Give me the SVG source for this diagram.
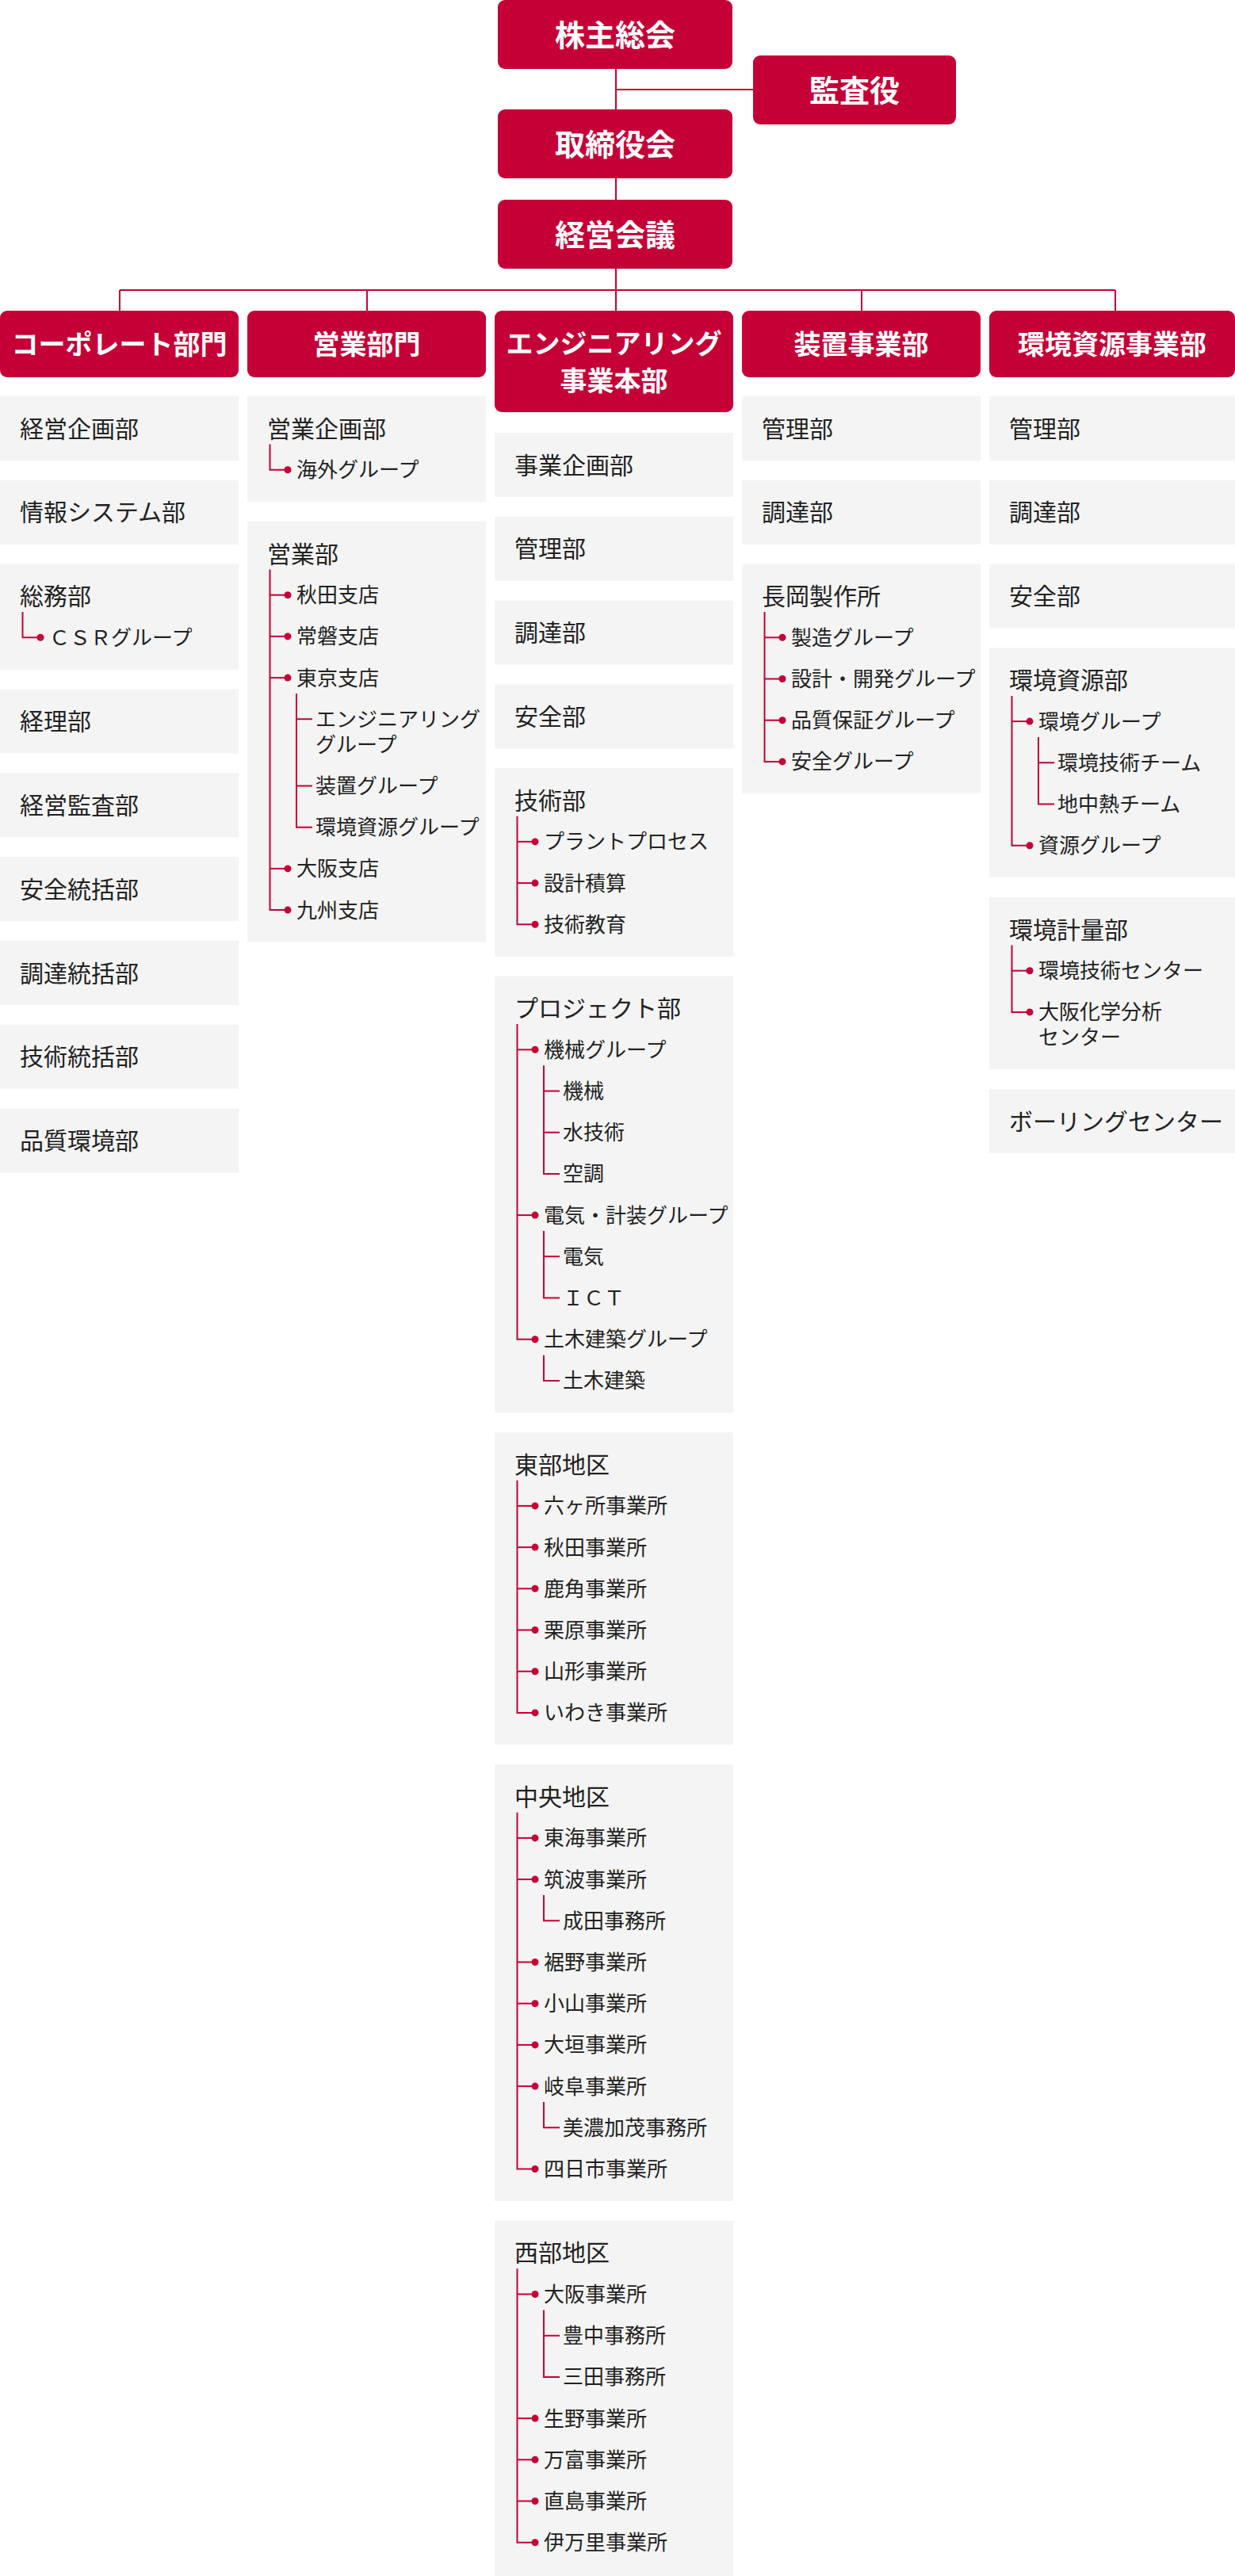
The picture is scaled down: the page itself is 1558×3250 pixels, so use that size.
<svg xmlns="http://www.w3.org/2000/svg" width="1558" height="3250" viewBox="0 0 1558 3250">
<defs>
<style>
.rb{fill:#c40037}
.gb{fill:#f4f4f4}
.t1{font-family:"Noto Sans CJK JP",sans-serif;font-weight:700;font-size:38px;fill:#fff;text-anchor:middle}
.t2{font-family:"Noto Sans CJK JP",sans-serif;font-weight:700;font-size:34px;fill:#fff;text-anchor:middle}
.h{font-family:"Noto Sans CJK JP",sans-serif;font-size:30px;fill:#222}
.s{font-family:"Noto Sans CJK JP",sans-serif;font-size:26px;fill:#222}
.ln{stroke:#c40037;stroke-width:2;fill:none}
.tk{stroke:#c40037;stroke-width:2;fill:none;marker-end:url(#dot)}
</style>
<marker id="dot" markerUnits="userSpaceOnUse" viewBox="0 0 10 10" refX="5" refY="5" markerWidth="10" markerHeight="10"><circle cx="5" cy="5" r="4.5" fill="#c40037"/></marker>
</defs>
<rect width="1558" height="3250" fill="#fff"/>

<g id="connectors" class="ln">
<path d="M777 87V138M777 113H950M777 225V252M777 339V392M151 366H1407M151 366V392M463 366V392M1087 366V392M1407 366V392"/>
</g>

<g id="n-kabunushi"><rect class="rb" x="628" y="0" width="296" height="87" rx="9"/><text class="t1" x="776" y="58">株主総会</text></g>
<g id="n-kansayaku"><rect class="rb" x="950" y="70" width="256" height="87" rx="9"/><text class="t1" x="1078" y="127.5">監査役</text></g>
<g id="n-torishimariyakukai"><rect class="rb" x="628" y="138" width="296" height="87" rx="9"/><text class="t1" x="776" y="195.5">取締役会</text></g>
<g id="n-keieikaigi"><rect class="rb" x="628" y="252" width="296" height="87" rx="9"/><text class="t1" x="776" y="309.5">経営会議</text></g>

<g id="n-corporate"><rect class="rb" x="0" y="392" width="301" height="84" rx="9"/><text class="t2" x="150.5" y="446.5">コーポレート部門</text></g>
<g id="n-eigyo"><rect class="rb" x="312" y="392" width="301" height="84" rx="9"/><text class="t2" x="462.5" y="446.5">営業部門</text></g>
<g id="n-engineering"><rect class="rb" x="624" y="392" width="301" height="128" rx="9"/><text class="t2" x="774.5" y="445.5">エンジニアリング</text><text class="t2" x="774.5" y="492.5">事業本部</text></g>
<g id="n-sochi"><rect class="rb" x="936" y="392" width="301" height="84" rx="9"/><text class="t2" x="1086.5" y="446.5">装置事業部</text></g>
<g id="n-kankyo"><rect class="rb" x="1248" y="392" width="310" height="84" rx="9"/><text class="t2" x="1403" y="446.5">環境資源事業部</text></g>

<!-- Column 1 -->
<g id="c1-keieikikaku"><rect class="gb" x="0" y="500" width="301" height="81"/><text class="h" x="25" y="551.5">経営企画部</text></g>
<g id="c1-johosystem"><rect class="gb" x="0" y="605.8" width="301" height="81"/><text class="h" x="25" y="657.3">情報システム部</text></g>
<g id="c1-somu"><rect class="gb" x="0" y="711.6" width="301" height="133.2"/><text class="h" x="25" y="763.1">総務部</text>
<path class="tk" d="M28.5 772.1V804.3H51"/><text class="s" x="62" y="813.8">ＣＳＲグループ</text></g>
<g id="c1-keiri"><rect class="gb" x="0" y="869.6" width="301" height="81"/><text class="h" x="25" y="921.1">経理部</text></g>
<g id="c1-keieikansa"><rect class="gb" x="0" y="975.4" width="301" height="81"/><text class="h" x="25" y="1026.9">経営監査部</text></g>
<g id="c1-anzentokatsu"><rect class="gb" x="0" y="1081.2" width="301" height="81"/><text class="h" x="25" y="1132.7">安全統括部</text></g>
<g id="c1-chotatsutokatsu"><rect class="gb" x="0" y="1187" width="301" height="81"/><text class="h" x="25" y="1238.5">調達統括部</text></g>
<g id="c1-gijutsutokatsu"><rect class="gb" x="0" y="1292.8" width="301" height="81"/><text class="h" x="25" y="1344.3">技術統括部</text></g>
<g id="c1-hinshitsukankyo"><rect class="gb" x="0" y="1398.6" width="301" height="81"/><text class="h" x="25" y="1450.1">品質環境部</text></g>

<!-- Column 2 -->
<g id="c2-eigyokikaku"><rect class="gb" x="312" y="500" width="301" height="133.2"/><text class="h" x="337" y="551.5">営業企画部</text>
<path class="tk" d="M340.5 560.5V592.7H363"/><text class="s" x="374" y="602.2">海外グループ</text></g>
<g id="c2-eigyobu"><rect class="gb" x="312" y="658" width="301" height="530.6"/><text class="h" x="337" y="709.5">営業部</text>
<path class="tk" d="M340.5 750.7H363"/><path class="tk" d="M340.5 802.9H363"/><path class="tk" d="M340.5 855.1H363"/><path class="tk" d="M340.5 1095.9H363"/><path class="tk" d="M340.5 718.5V1148.1H363"/>
<path class="ln" d="M374 907.3H394M374 991.5H394M374 875.1V1043.7H394"/>
<text class="s" x="374" y="760.2">秋田支店</text>
<text class="s" x="374" y="812.4">常磐支店</text>
<text class="s" x="374" y="864.6">東京支店</text>
<text class="s" x="398" y="916.8">エンジニアリング</text>
<text class="s" x="398" y="948.8">グループ</text>
<text class="s" x="398" y="1001">装置グループ</text>
<text class="s" x="398" y="1053.2">環境資源グループ</text>
<text class="s" x="374" y="1105.4">大阪支店</text>
<text class="s" x="374" y="1157.6">九州支店</text></g>

<!-- Column 3 -->
<g id="c3-jigyokikaku"><rect class="gb" x="624" y="546" width="301" height="81"/><text class="h" x="649" y="597.5">事業企画部</text></g>
<g id="c3-kanri"><rect class="gb" x="624" y="651.8" width="301" height="81"/><text class="h" x="649" y="703.3">管理部</text></g>
<g id="c3-chotatsu"><rect class="gb" x="624" y="757.6" width="301" height="81"/><text class="h" x="649" y="809.1">調達部</text></g>
<g id="c3-anzen"><rect class="gb" x="624" y="863.4" width="301" height="81"/><text class="h" x="649" y="914.9">安全部</text></g>
<g id="c3-gijutsu"><rect class="gb" x="624" y="969.2" width="301" height="237.6"/><text class="h" x="649" y="1020.7">技術部</text>
<path class="tk" d="M652.5 1061.9H675"/><path class="tk" d="M652.5 1114.1H675"/><path class="tk" d="M652.5 1029.7V1166.3H675"/>
<text class="s" x="686" y="1071.4">プラントプロセス</text>
<text class="s" x="686" y="1123.6">設計積算</text>
<text class="s" x="686" y="1175.8">技術教育</text></g>
<g id="c3-project"><rect class="gb" x="624" y="1231.6" width="301" height="550.8"/><text class="h" x="649" y="1283.1">プロジェクト部</text>
<path class="tk" d="M652.5 1324.3H675"/><path class="tk" d="M652.5 1533.1H675"/><path class="tk" d="M652.5 1292.1V1689.7H675"/>
<path class="ln" d="M686 1376.5H706M686 1428.7H706M686 1344.3V1480.9H706M686 1585.3H706M686 1553.1V1637.5H706M686 1709.7V1741.9H706"/>
<text class="s" x="686" y="1333.8">機械グループ</text>
<text class="s" x="710" y="1386">機械</text>
<text class="s" x="710" y="1438.2">水技術</text>
<text class="s" x="710" y="1490.4">空調</text>
<text class="s" x="686" y="1542.6">電気・計装グループ</text>
<text class="s" x="710" y="1594.8">電気</text>
<text class="s" x="710" y="1647">ＩＣＴ</text>
<text class="s" x="686" y="1699.2">土木建築グループ</text>
<text class="s" x="710" y="1751.4">土木建築</text></g>
<g id="c3-tobu"><rect class="gb" x="624" y="1807.2" width="301" height="394.2"/><text class="h" x="649" y="1858.7">東部地区</text>
<path class="tk" d="M652.5 1899.9H675"/><path class="tk" d="M652.5 1952.1H675"/><path class="tk" d="M652.5 2004.3H675"/><path class="tk" d="M652.5 2056.5H675"/><path class="tk" d="M652.5 2108.7H675"/><path class="tk" d="M652.5 1867.7V2160.9H675"/>
<text class="s" x="686" y="1909.4">六ヶ所事業所</text>
<text class="s" x="686" y="1961.6">秋田事業所</text>
<text class="s" x="686" y="2013.8">鹿角事業所</text>
<text class="s" x="686" y="2066">栗原事業所</text>
<text class="s" x="686" y="2118.2">山形事業所</text>
<text class="s" x="686" y="2170.4">いわき事業所</text></g>
<g id="c3-chuo"><rect class="gb" x="624" y="2226.2" width="301" height="550.8"/><text class="h" x="649" y="2277.7">中央地区</text>
<path class="tk" d="M652.5 2318.9H675"/><path class="tk" d="M652.5 2371.1H675"/><path class="tk" d="M652.5 2475.5H675"/><path class="tk" d="M652.5 2527.7H675"/><path class="tk" d="M652.5 2579.9H675"/><path class="tk" d="M652.5 2632.1H675"/><path class="tk" d="M652.5 2286.7V2736.5H675"/>
<path class="ln" d="M686 2391.1V2423.3H706M686 2652.1V2684.3H706"/>
<text class="s" x="686" y="2328.4">東海事業所</text>
<text class="s" x="686" y="2380.6">筑波事業所</text>
<text class="s" x="710" y="2432.8">成田事務所</text>
<text class="s" x="686" y="2485">裾野事業所</text>
<text class="s" x="686" y="2537.2">小山事業所</text>
<text class="s" x="686" y="2589.4">大垣事業所</text>
<text class="s" x="686" y="2641.6">岐阜事業所</text>
<text class="s" x="710" y="2693.8">美濃加茂事務所</text>
<text class="s" x="686" y="2746">四日市事業所</text></g>
<g id="c3-seibu"><rect class="gb" x="624" y="2801.8" width="301" height="448.2"/><text class="h" x="649" y="2853.3">西部地区</text>
<path class="tk" d="M652.5 2894.5H675"/><path class="tk" d="M652.5 3051.1H675"/><path class="tk" d="M652.5 3103.3H675"/><path class="tk" d="M652.5 3155.5H675"/><path class="tk" d="M652.5 2862.3V3207.7H675"/>
<path class="ln" d="M686 2946.7H706M686 2914.5V2998.9H706"/>
<text class="s" x="686" y="2904">大阪事業所</text>
<text class="s" x="710" y="2956.2">豊中事務所</text>
<text class="s" x="710" y="3008.4">三田事務所</text>
<text class="s" x="686" y="3060.6">生野事業所</text>
<text class="s" x="686" y="3112.8">万富事業所</text>
<text class="s" x="686" y="3165">直島事業所</text>
<text class="s" x="686" y="3217.2">伊万里事業所</text></g>

<!-- Column 4 -->
<g id="c4-kanri"><rect class="gb" x="936" y="500" width="301" height="81"/><text class="h" x="961" y="551.5">管理部</text></g>
<g id="c4-chotatsu"><rect class="gb" x="936" y="605.8" width="301" height="81"/><text class="h" x="961" y="657.3">調達部</text></g>
<g id="c4-nagaoka"><rect class="gb" x="936" y="711.6" width="301" height="289.8"/><text class="h" x="961" y="763.1">長岡製作所</text>
<path class="tk" d="M964.5 804.3H987"/><path class="tk" d="M964.5 856.5H987"/><path class="tk" d="M964.5 908.7H987"/><path class="tk" d="M964.5 772.1V960.9H987"/>
<text class="s" x="998" y="813.8">製造グループ</text>
<text class="s" x="998" y="866">設計・開発グループ</text>
<text class="s" x="998" y="918.2">品質保証グループ</text>
<text class="s" x="998" y="970.4">安全グループ</text></g>

<!-- Column 5 -->
<g id="c5-kanri"><rect class="gb" x="1248" y="500" width="310" height="81"/><text class="h" x="1273" y="551.5">管理部</text></g>
<g id="c5-chotatsu"><rect class="gb" x="1248" y="605.8" width="310" height="81"/><text class="h" x="1273" y="657.3">調達部</text></g>
<g id="c5-anzen"><rect class="gb" x="1248" y="711.6" width="310" height="81"/><text class="h" x="1273" y="763.1">安全部</text></g>
<g id="c5-kankyoshigen"><rect class="gb" x="1248" y="817.4" width="310" height="289.8"/><text class="h" x="1273" y="868.9">環境資源部</text>
<path class="tk" d="M1276.5 910.1H1299"/><path class="tk" d="M1276.5 877.9V1066.7H1299"/>
<path class="ln" d="M1310 962.3H1330M1310 930.1V1014.5H1330"/>
<text class="s" x="1310" y="919.6">環境グループ</text>
<text class="s" x="1334" y="971.8">環境技術チーム</text>
<text class="s" x="1334" y="1024">地中熱チーム</text>
<text class="s" x="1310" y="1076.2">資源グループ</text></g>
<g id="c5-kankyokeiryo"><rect class="gb" x="1248" y="1132" width="310" height="217.4"/><text class="h" x="1273" y="1183.5">環境計量部</text>
<path class="tk" d="M1276.5 1224.7H1299"/><path class="tk" d="M1276.5 1192.5V1276.9H1299"/>
<text class="s" x="1310" y="1234.2">環境技術センター</text>
<text class="s" x="1310" y="1286.4">大阪化学分析</text>
<text class="s" x="1310" y="1318.4">センター</text></g>
<g id="c5-boring"><rect class="gb" x="1248" y="1374.2" width="310" height="81"/><text class="h" x="1273" y="1425.7">ボーリングセンター</text></g>
</svg>
